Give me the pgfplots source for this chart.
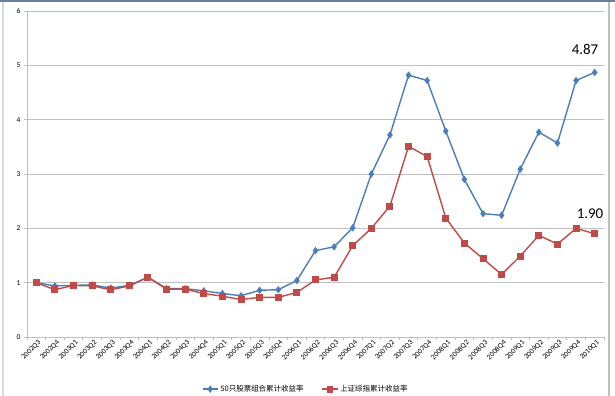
\documentclass[border=0pt]{standalone}
\usepackage{fontspec}
\setmainfont{Carlito}
\newfontfamily\cjk{Noto Sans CJK SC}
\usepackage{pgfplots}
\pgfplotsset{compat=1.18}
\definecolor{sblue}{HTML}{4A7EBB}
\definecolor{sred}{HTML}{BE4B48}
\definecolor{gridc}{HTML}{BFBFBF}
\begin{document}
\begin{tikzpicture}
\useasboundingbox[fill=white] (0,0) rectangle (615bp,396bp);
\draw[color=gridc!60, line width=1.2bp] (3bp,0) -- (3bp,396bp);
\draw[color=gridc, line width=1.2bp] (609bp,0) -- (609bp,394bp);
\fill[color=sblue!50!gray] (0,394bp) rectangle (615bp,396bp);
\begin{axis}[
  at={(27bp,59bp)}, anchor=south west,
  scale only axis, width=577bp, height=326bp,
  xmin=-0.5, xmax=30.5, ymin=0, ymax=6,
  axis lines=left,
  axis line style={-, color=gridc, line width=0.8bp},
  ytick={0,1,2,3,4,5,6},
  ymajorgrids, grid style={color=gridc, line width=0.8bp},
  xtick={0,...,30},
  xticklabels={2002Q3,2002Q4,2003Q1,2003Q2,2003Q3,2003Q4,2004Q1,2004Q2,2004Q3,2004Q4,2005Q1,2005Q2,2005Q3,2005Q4,2006Q1,2006Q2,2006Q3,2006Q4,2007Q1,2007Q2,2007Q3,2007Q4,2008Q1,2008Q2,2008Q3,2008Q4,2009Q1,2009Q2,2009Q3,2009Q4,2010Q1},
  x tick label style={rotate=45, anchor=north east, font=\fontsize{7.5}{8}\selectfont, inner sep=0.5bp, xshift=2bp},
  y tick label style={font=\fontsize{7.5}{8}\selectfont},
  minor xtick={-0.5,0.5,...,30.5},
  major x tick style={draw=none},
  tick align=outside,
  minor tick length=3bp, major tick length=3bp,
  tick style={color=gridc, line width=0.8bp},
  /pgf/number format/assume math mode=true,
  legend columns=2,
  legend style={at={(0.483,-0.16)}, anchor=center, draw=none, font=\fontsize{7.5}{8}\selectfont\cjk, /tikz/every even column/.append style={column sep=16bp}},
  legend image post style={xscale=0.9},
  clip=false,
]
\addplot[color=sblue, line width=1.4bp, mark=diamond*, mark size=2.6bp, mark options={solid}] coordinates {
(0,1.00)(1,0.94)(2,0.95)(3,0.96)(4,0.90)(5,0.95)(6,1.10)(7,0.89)(8,0.89)(9,0.85)
(10,0.80)(11,0.76)(12,0.86)(13,0.87)(14,1.04)(15,1.59)(16,1.66)(17,2.01)(18,3.00)(19,3.72)
(20,4.82)(21,4.72)(22,3.79)(23,2.90)(24,2.27)(25,2.24)(26,3.09)(27,3.77)(28,3.57)(29,4.72)(30,4.87)};
\addlegendentry{50只股票组合累计收益率}
\addplot[color=sred, line width=1.4bp, mark=square*, mark size=2.8bp] coordinates {
(0,1.00)(1,0.87)(2,0.95)(3,0.94)(4,0.87)(5,0.94)(6,1.10)(7,0.88)(8,0.88)(9,0.80)
(10,0.75)(11,0.69)(12,0.73)(13,0.73)(14,0.82)(15,1.05)(16,1.10)(17,1.68)(18,2.00)(19,2.41)
(20,3.51)(21,3.32)(22,2.19)(23,1.73)(24,1.44)(25,1.15)(26,1.49)(27,1.87)(28,1.71)(29,2.00)(30,1.90)};
\addlegendentry{上证综指累计收益率}
\node[font=\fontsize{15}{16}\selectfont, inner sep=0] at (axis cs:29.48,5.29) {4.87};
\node[font=\fontsize{15}{16}\selectfont, inner sep=0] at (axis cs:29.75,2.26) {1.90};
\end{axis}
\end{tikzpicture}
\end{document}
